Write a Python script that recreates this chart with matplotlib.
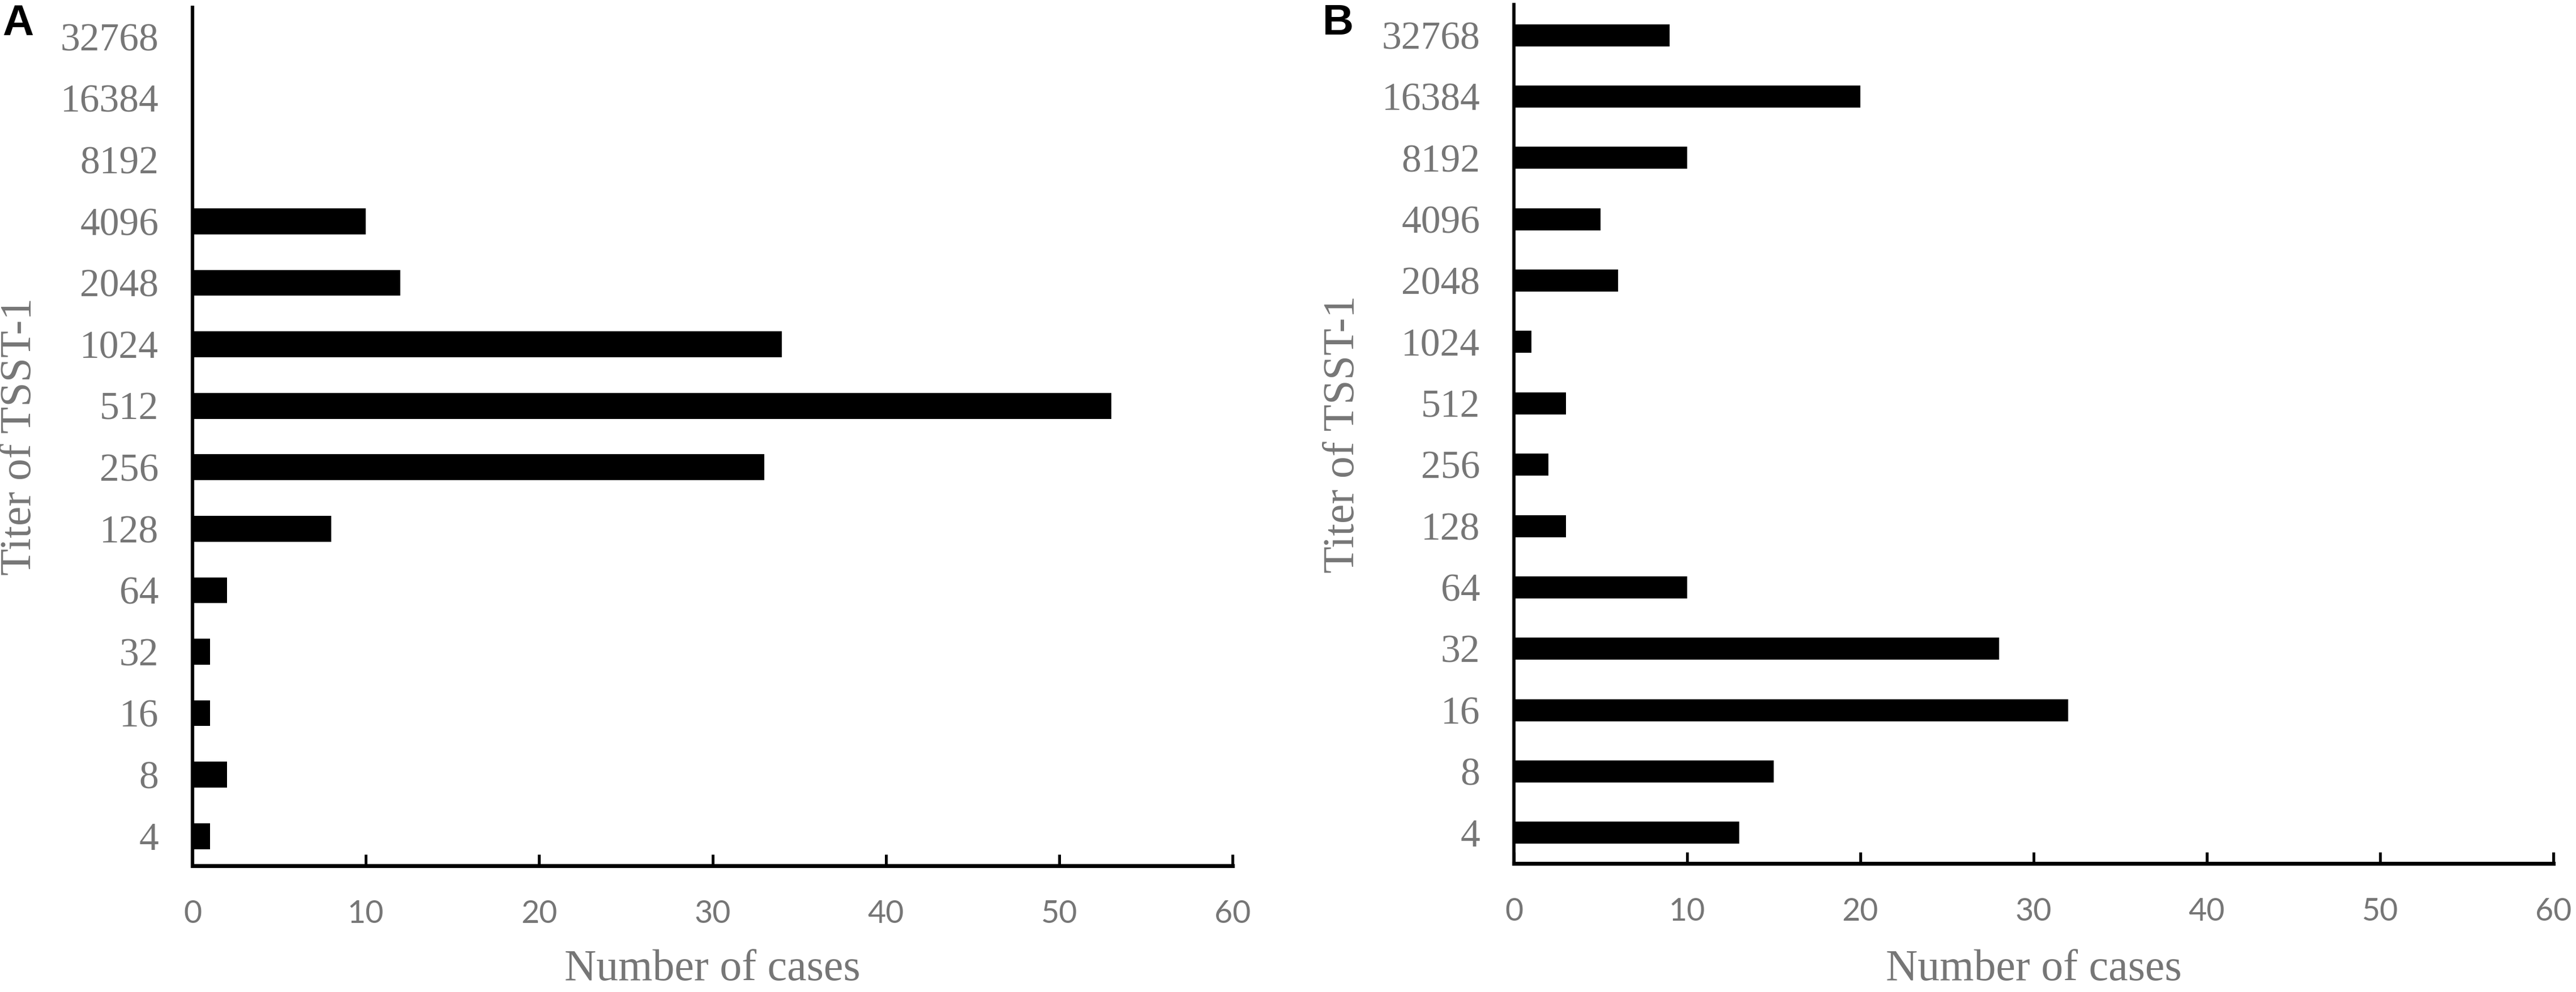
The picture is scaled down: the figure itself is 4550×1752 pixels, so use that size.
import matplotlib
matplotlib.use("Agg")
import matplotlib.pyplot as plt
import numpy as np

# ---- data ----
titers = ['4', '8', '16', '32', '64', '128', '256', '512', '1024', '2048',
          '4096', '8192', '16384', '32768']
cases_A = [1, 2, 1, 1, 2, 8, 33, 53, 34, 12, 10, 0, 0, 0]
cases_B = [13, 15, 32, 28, 10, 3, 2, 3, 1, 6, 5, 10, 20, 9]
x_ticks = [0, 10, 20, 30, 40, 50, 60]
panel_letters = ['A', 'B']
xlabel_text = 'Number of cases'
ylabel_text = 'Titer of TSST-1'

W, H = 4550, 1752
DPI = 100
GRAY = '#767676'

fig = plt.figure(figsize=(W / DPI, H / DPI), dpi=DPI)
fig.patch.set_facecolor('white')


def px_rect(l, r, top, bottom):
    return [l / W, 1 - bottom / H, (r - l) / W, (bottom - top) / H]


panels = [
    dict(rect=px_rect(340, 2177, 13, 1529), data=cases_A, bar_h=0.42,
         ylim=(-0.48, 13.48), letter_xy=(4, 62), ylab_x=35, lw_left=4.3),
    dict(rect=px_rect(2674, 4510, 8, 1525), data=cases_B, bar_h=0.36,
         ylim=(-0.5, 13.5), letter_xy=(2336, 61), ylab_x=2372, lw_left=4.1),
]

serif = ['Liberation Serif', 'DejaVu Serif']

for p, letter in zip(panels, panel_letters):
    ax = fig.add_axes(p['rect'])
    pos = np.arange(len(titers))
    ax.barh(pos, p['data'], height=p['bar_h'], color='black', zorder=1)
    ax.set_xlim(x_ticks[0], x_ticks[-1])
    ax.set_ylim(*p['ylim'])
    ax.set_yticks(pos)
    ax.set_yticklabels(titers, fontfamily=serif, fontsize=50, color=GRAY)
    ax.set_xticks(x_ticks)
    ax.set_xticklabels([str(t) for t in x_ticks], fontfamily=['Lato', 'DejaVu Sans'],
                       fontsize=40, color=GRAY)
    ax.tick_params(axis='y', length=0, pad=43)
    ax.tick_params(axis='x', direction='in', length=14.5, width=3.6,
                   color='black', pad=43)
    for s in ['top', 'right']:
        ax.spines[s].set_visible(False)
    ax.spines['left'].set_linewidth(p['lw_left'])
    ax.spines['bottom'].set_linewidth(5.0)
    ax.spines['left'].set_color('black')
    ax.spines['bottom'].set_color('black')
    ax.set_facecolor('white')

    # axis labels placed in figure pixel coordinates
    l, b, w, h = p['rect']
    cx = (l + w / 2)
    fig.text(cx, (H - 1748) / H, xlabel_text, ha='center', va='bottom',
             fontfamily=serif, fontsize=56, color=GRAY)
    cy = b + h / 2
    fig.text(p['ylab_x'] / W, cy, ylabel_text, ha='center', va='center',
             rotation=90, fontfamily=serif, fontsize=56, color=GRAY)

    lx, ly = p['letter_xy']
    fig.text(lx / W, (H - ly) / H, letter, ha='left', va='baseline',
             fontfamily=['Liberation Sans', 'DejaVu Sans'], fontweight='bold',
             fontsize=55, color='black')

fig.savefig('out.png', dpi=DPI, facecolor='white')
